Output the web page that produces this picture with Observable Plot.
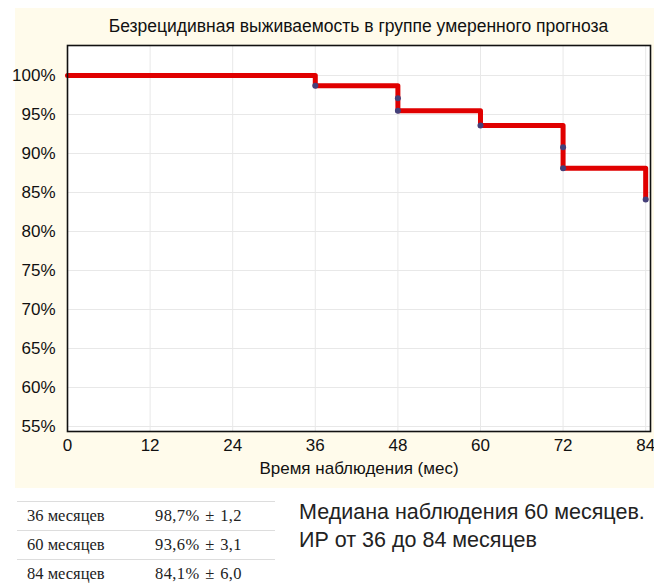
<!DOCTYPE html>
<html><head><meta charset="utf-8">
<script src="https://cdn.jsdelivr.net/npm/d3@7"></script>
<script src="https://cdn.jsdelivr.net/npm/@observablehq/plot@0.6"></script>
<style>
body{margin:0;background:#fff;font-family:"Liberation Sans",Arial,sans-serif;}
#wrap{position:relative;width:654px;height:586px;overflow:hidden;}
#bg{position:absolute;left:15px;top:8px;width:639px;height:480px;background:#fffbeb;}
#chart{position:absolute;left:0;top:0;}
#title{position:absolute;left:60px;width:597px;top:16px;text-align:center;font-size:17.5px;color:#111;}
#tbl{position:absolute;left:17px;top:501px;border-collapse:collapse;font-family:"Liberation Serif","Times New Roman",serif;font-size:16.5px;line-height:20px;color:#222;}
#tbl td{border-top:1px solid #ddd;height:28px;padding:0;vertical-align:middle;}
#tbl td.a{width:128px;padding-left:10px;}
#tbl td.b{width:120px;word-spacing:1px;letter-spacing:0.4px;}
#note{position:absolute;left:299px;top:498px;font-size:21.5px;line-height:28px;color:#222;}
</style></head>
<body><div id="wrap"><div id="bg"></div><div id="chart"></div>
<div id="title"></div><table id="tbl"></table><div id="note"></div></div>
<script>
const titleText = "Безрецидивная выживаемость в группе умеренного прогноза";
const xLabel = "Время наблюдения (мес)";
const stepTimes = [0, 36, 48, 60, 72, 84];
const stepSurvival = [100, 98.7, 95.5, 93.6, 88.1, 84.1];
const censorTimes = [36, 48, 48, 60, 72, 72, 84];
const censorSurvival = [98.7, 97.1, 95.5, 93.6, 90.8, 88.1, 84.1];
const xTicks = [0, 12, 24, 36, 48, 60, 72, 84];
const yTicks = [55, 60, 65, 70, 75, 80, 85, 90, 95, 100];
const tableLabels = ["36 месяцев", "60 месяцев", "84 месяцев"];
const tableValues = ["98,7% ± 1,2", "93,6% ± 3,1", "84,1% ± 6,0"];
const noteLines = ["Медиана наблюдения 60 месяцев.", "ИР от 36 до 84 месяцев"];

const steps = stepTimes.map((t, i) => ({t, s: stepSurvival[i]}));
const cens = censorTimes.map((t, i) => ({t, s: censorSurvival[i]}));

const plot = Plot.plot({
  width: 654, height: 490,
  marginLeft: 67, marginRight: 4, marginTop: 45, marginBottom: 59,
  style: {background: "transparent", fontFamily: "'Liberation Sans', Arial, sans-serif", fontSize: "17px", color: "#111"},
  x: {domain: [0, 84.7], ticks: xTicks, label: xLabel, labelAnchor: "center", labelArrow: "none", labelOffset: 42, tickSize: 0, tickPadding: 7},
  y: {domain: [54.36, 103.85], ticks: yTicks, tickFormat: d => d + "%", label: null, tickSize: 0, tickPadding: 12},
  marks: [
    Plot.rect([0], {x1: 0, x2: 84.7, y1: 54.36, y2: 103.85, fill: "#fff"}),
    Plot.gridX(xTicks, {stroke: "#e8e8e8", strokeOpacity: 1}),
    Plot.gridY(yTicks, {stroke: "#e8e8e8", strokeOpacity: 1}),
    Plot.line(steps, {x: "t", y: "s", curve: "step-after", stroke: "#e00000", strokeWidth: 5}),
    Plot.dot(cens, {x: "t", y: "s", r: 3, fill: "#44407a", stroke: "none"}),
    Plot.frame({stroke: "#111", strokeWidth: 1.6})
  ]
});
document.getElementById("chart").appendChild(plot);
document.getElementById("title").textContent = titleText;
const tbl = document.getElementById("tbl");
tableLabels.forEach((l, i) => {
  const tr = document.createElement("tr");
  const a = document.createElement("td"); a.className = "a"; a.textContent = l;
  const b = document.createElement("td"); b.className = "b"; b.textContent = tableValues[i];
  tr.appendChild(a); tr.appendChild(b); tbl.appendChild(tr);
});
const note = document.getElementById("note");
noteLines.forEach(t => { const d = document.createElement("div"); d.textContent = t; note.appendChild(d); });
</script></body></html>
